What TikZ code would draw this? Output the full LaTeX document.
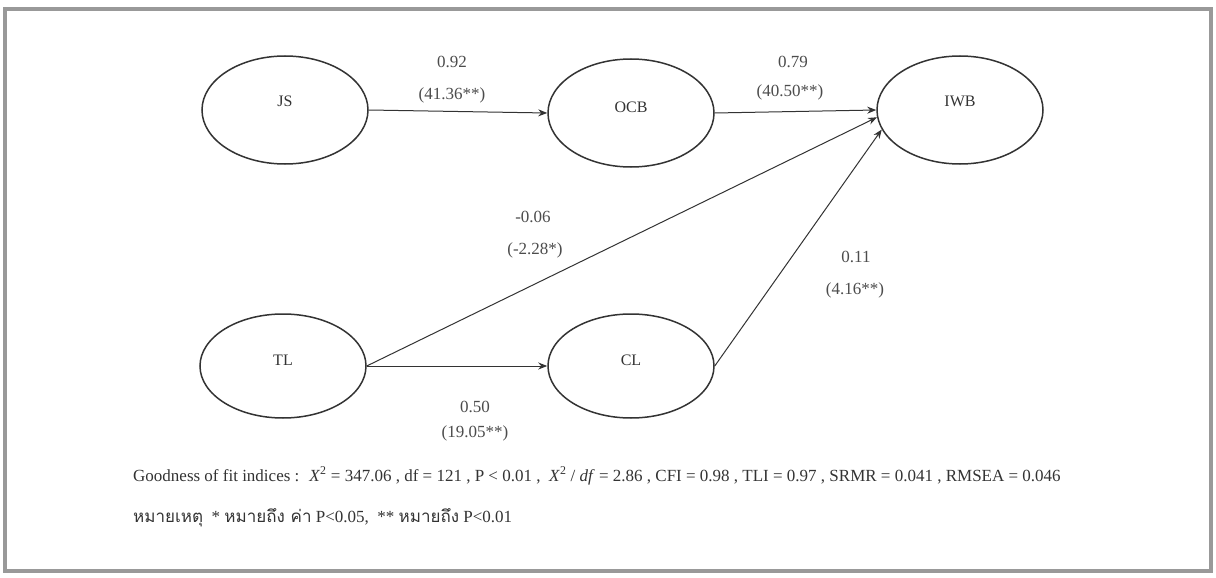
\documentclass[tikz,border=0pt]{standalone}
\usepackage{fontspec}
\setmainfont{Liberation Serif}
\newfontfamily\thaifont[Script=Thai]{Loma}
\usetikzlibrary{shapes.geometric,arrows.meta}
\begin{document}
\begin{tikzpicture}[x=1pt,y=-1pt,
  latent/.style={ellipse,draw=black!80,line width=1.5pt,minimum width=166pt,minimum height=108pt,inner sep=0pt},
  nodetext/.style={font=\fontsize{16}{19}\selectfont,text=black!80,inner sep=0pt},
  pathline/.style={draw=black!80,line width=1pt,-{Stealth[length=9pt,width=7pt]}},
  coef/.style={font=\fontsize{17}{20}\selectfont,text=black!70,inner sep=0pt},
  note/.style={font=\fontsize{17}{20}\selectfont,text=black!80,inner sep=0pt,anchor=base west}]
\useasboundingbox (0,0) rectangle (1216,578);
\fill[white] (0,0) rectangle (1216,578);
\draw[black!40,line width=3.5pt] (5,9) rectangle (1211,571);
% latent variables
\node[latent] (JS) at (285,110) {};
\node[latent] (OCB) at (631,113) {};
\node[latent] (IWB) at (960,110) {};
\node[latent,minimum height=104pt] (TL) at (283,366) {};
\node[latent,minimum height=104pt] (CL) at (631,366) {};
\node[nodetext] (tJS) at ([yshift=9pt]JS.center) {JS};
\node[nodetext] (tOCB) at ([yshift=6pt]OCB.center) {OCB};
\node[nodetext] (tIWB) at ([yshift=9pt]IWB.center) {IWB};
\node[nodetext] (tTL) at ([yshift=6pt]TL.center) {TL};
\node[nodetext] (tCL) at ([yshift=6pt]CL.center) {CL};
% paths
\draw[pathline] (JS.east) -- (OCB.west);
\draw[pathline] (OCB.east) -- (IWB.west);
\draw[pathline] (TL.east) -- (IWB.185);
\draw[pathline] (CL.east) -- (IWB.194);
\draw[pathline] (TL.east) -- (CL.west);
% coefficients
\node[coef] (c1a) at (452,62) {0.92};
\node[coef] (c1b) at (452,95) {(41.36**)};
\node[coef] (c2a) at (793,62) {0.79};
\node[coef] (c2b) at (790,92) {(40.50**)};
\node[coef] (c3a) at (533,217) {-0.06};
\node[coef] (c3b) at (535,250) {(-2.28*)};
\node[coef] (c4a) at (856,257) {0.11};
\node[coef] (c4b) at (855,290) {(4.16**)};
\node[coef] (c5a) at (475,407) {0.50};
\node[coef] (c5b) at (475,433) {(19.05**)};
% notes
\node[note] (fit) at (133,481) {Goodness of fit indices :~ \textit{X}\textsuperscript{2} = 347.06 , df = 121 , P < 0.01 ,~ \textit{X}\textsuperscript{2} / \textit{df} = 2.86 , CFI = 0.98 , TLI = 0.97 , SRMR = 0.041 , RMSEA = 0.046};
\node[note] (thai) at (133,522) {{\thaifont หมายเหตุ} ~* {\thaifont หมายถึง ค่า} P<0.05,~ ** {\thaifont หมายถึง} P<0.01};
\end{tikzpicture}
\end{document}
